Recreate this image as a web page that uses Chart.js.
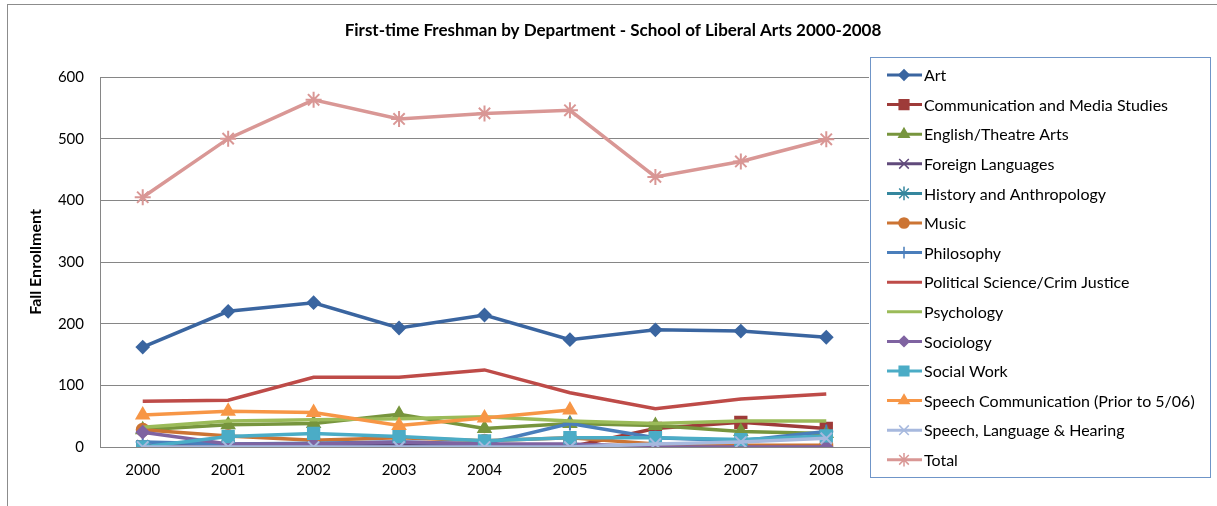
<!DOCTYPE html>
<html>
<head>
<meta charset="utf-8">
<script src="https://cdn.jsdelivr.net/npm/chart.js@4.4.0/dist/chart.umd.min.js"></script>
<style>
html, body { margin: 0; padding: 0; background: #fff; }
#wrap { width: 1217px; height: 506px; }
</style>
</head>
<body>
<div id="wrap"><canvas id="enrollChart" width="1217" height="506"></canvas></div>
<script>
var years = ["2000", "2001", "2002", "2003", "2004", "2005", "2006", "2007", "2008"];
var yTicks = [0, 100, 200, 300, 400, 500, 600];

var art = [162, 220, 234, 193, 214, 174, 190, 188, 178];
var comm = [0, 0, 0, 0, 0, 0, 30, 40, 30];
var english = [28, 36, 38, 53, 30, 38, 35, 25, 22];
var foreign = [2, 2, 3, 4, 3, 3, 2, 2, 0];
var history = [10, 32, 35, 40, 42, 56, 45, 42, 55];
var music = [28, 18, 11, 15, 10, 15, 5, 3, 3];
var philosophy = [8, 5, 6, 8, 5, 38, 15, 10, 25];
var polisci = [74, 76, 113, 113, 125, 88, 62, 78, 86];
var psych = [32, 42, 44, 46, 49, 42, 38, 42, 42];
var sociology = [24, 5, 5, 8, 5, 5, 0, 0, 0];
var socialWork = [0, 17, 22, 17, 10, 15, 15, 12, 18];
var speechComm = [52, 58, 56, 35, 47, 60, null, null, null];
var speechHearing = [0, 0, 0, 0, 0, 0, 5, 8, 14];
var total = [405, 500, 563, 532, 541, 546, 438, 463, 499];

var series = [
    { label: "Art", data: art, color: "#3A65A0", style: "rectRot", r: 6 },
    { label: "Communication and Media Studies", data: comm, color: "#9E3B39", style: "rect", r: 8 },
    { label: "English/Theatre Arts", data: english, color: "#77953D", style: "triangle", r: 7 },
    { label: "Foreign Languages", data: foreign, color: "#604A7B", style: "crossRot", r: 8 },
    { label: "History and Anthropology", data: history, color: "#35879E", style: "star", r: 8 },
    { label: "Music", data: music, color: "#CC7433", style: "circle", r: 6 },
    { label: "Philosophy", data: philosophy, color: "#4A7EBB", style: "cross", r: 7 },
    { label: "Political Science/Crim Justice", data: polisci, color: "#BE4B48", style: false, r: 0 },
    { label: "Psychology", data: psych, color: "#9BBB59", style: false, r: 0 },
    { label: "Sociology", data: sociology, color: "#7F63A1", style: "rectRot", r: 6 },
    { label: "Social Work", data: socialWork, color: "#4BACC6", style: "rect", r: 8 },
    { label: "Speech Communication (Prior to 5/06)", data: speechComm, color: "#F79646", style: "triangle", r: 7 },
    { label: "Speech, Language & Hearing", data: speechHearing, color: "#A7B9DE", style: "crossRot", r: 8 },
    { label: "Total", data: total, color: "#D99795", style: "star", r: 8 }
];

var FONT = "Lato";
var chartTitle = "First-time Freshman by Department - School of Liberal Arts 2000-2008";

var frameAndLegend = {
    id: "frameAndLegend",
    beforeDraw: function (chart) {
        var ctx = chart.ctx;
        ctx.save();
        ctx.strokeStyle = "#8c8c8c";
        ctx.lineWidth = 1;
        ctx.strokeRect(7.5, 4.5, 1300, 600);
        // title, centred like the original (over plot + legend)
        ctx.fillStyle = "#000";
        ctx.font = "bold 17px " + FONT;
        ctx.textAlign = "center";
        ctx.textBaseline = "middle";
        ctx.fillText(chartTitle, 613, 31);
        ctx.restore();
    },
    afterDraw: function (chart) {
        var ctx = chart.ctx;
        ctx.save();
        ctx.fillStyle = "#fff";
        ctx.fillRect(870, 57, 340, 420);
        ctx.strokeStyle = "#6F95C8";
        ctx.lineWidth = 1;
        ctx.strokeRect(870.5, 57.5, 340, 420);
        ctx.font = "16px " + FONT;
        ctx.textBaseline = "middle";
        series.forEach(function (s, i) {
            var y = 75 + i * 29.6;
            ctx.strokeStyle = s.color;
            ctx.fillStyle = s.color;
            ctx.lineWidth = 3;
            ctx.beginPath();
            ctx.moveTo(887, y);
            ctx.lineTo(922, y);
            ctx.stroke();
            if (s.style) {
                ctx.lineWidth = 1.5;
                Chart.helpers.drawPoint(ctx, { pointStyle: s.style, radius: s.r * 0.85, rotation: 0, borderWidth: 1.5 }, 904, y);
            }
            ctx.fillStyle = "#000";
            ctx.fillText(s.label, 924, y + 1);
        });
        ctx.restore();
    }
};

new Chart("enrollChart", {
    type: "line",
    data: {
        labels: years,
        datasets: series.map(function (s, i) {
            return {
                label: s.label,
                data: s.data,
                borderColor: s.color,
                backgroundColor: s.color,
                borderWidth: 3.5,
                tension: 0,
                pointStyle: s.style,
                pointRadius: s.r,
                pointBorderWidth: 2,
                pointHoverRadius: s.r,
                order: series.length - i,
                spanGaps: false
            };
        })
    },
    options: {
        responsive: false,
        animation: false,
        devicePixelRatio: 1,
        layout: { padding: { left: 10, right: 348, top: 77, bottom: 0 } },
        plugins: {
            legend: { display: false },
            tooltip: { enabled: false },
            title: { display: false }
        },
        scales: {
            x: {
                offset: true,
                grid: { display: false, drawTicks: false },
                border: { color: "#868686", width: 1 },
                ticks: { color: "#000", padding: 14, font: { family: FONT, size: 15 } },
                afterFit: function (scale) { scale.height = 59; }
            },
            y: {
                min: 0,
                max: 600,
                afterBuildTicks: function (scale) {
                    scale.ticks = yTicks.map(function (v) { return { value: v }; });
                },
                grid: { color: "#868686", drawTicks: false },
                border: { color: "#868686", width: 1 },
                ticks: { color: "#000", padding: 16, font: { family: FONT, size: 15 } },
                title: {
                    display: true,
                    text: "Fall Enrollment",
                    color: "#000",
                    font: { family: FONT, size: 16, weight: "bold" },
                    padding: { top: 16, bottom: 0 }
                },
                afterFit: function (scale) { scale.width = 90; }
            }
        }
    },
    plugins: [frameAndLegend]
});
</script>
</body>
</html>
